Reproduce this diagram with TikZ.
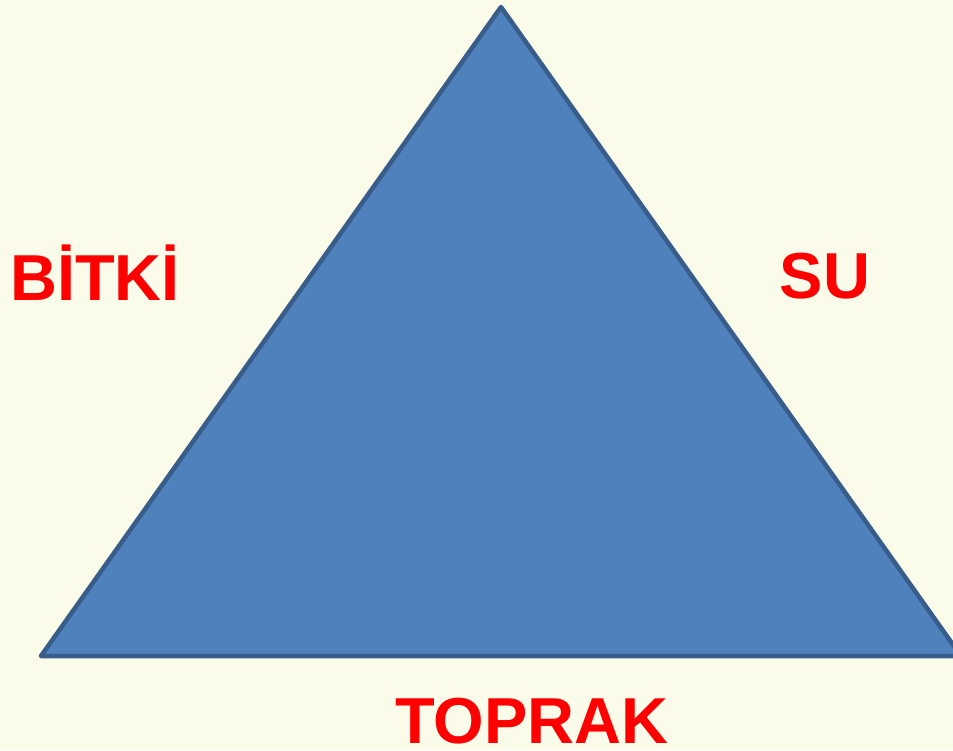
\documentclass[tikz,border=0pt]{standalone}
\usepackage{fontspec}
\setmainfont{Liberation Sans}
\usepackage{xcolor}
\usepackage{tikz}
\definecolor{cream}{HTML}{FBFBEA}
\definecolor{triblue}{HTML}{4F81BD}
\definecolor{triedge}{HTML}{385D8A}
\definecolor{labelred}{HTML}{FF0000}

\begin{document}
\begin{tikzpicture}[x=1pt,y=-1pt,
    label text/.style={anchor=base,inner sep=0pt,text depth=0pt,text=labelred,
      font=\fontsize{65}{70}\selectfont\bfseries}]
    \useasboundingbox (0,0) rectangle (953,750);
    \fill[cream] (0,0) rectangle (953,750);
    \clip (0,0) rectangle (953,750);
    % triangle
    \coordinate (apex) at (501,7);
    \coordinate (leftcorner) at (41,656);
    \coordinate (rightcorner) at (961,656);
    \filldraw[fill=triblue,draw=triedge,line width=4.5pt,line join=round]
      (apex) -- (leftcorner) -- (rightcorner) -- cycle;
    % labels
    \node[label text] (bitki) at (95,300) {BİTKİ};
    \node[label text] (su) at (825,298) {SU};
    \node[label text] (toprak) at (532,743) {TOPRAK};
  \end{tikzpicture}
\end{document}
